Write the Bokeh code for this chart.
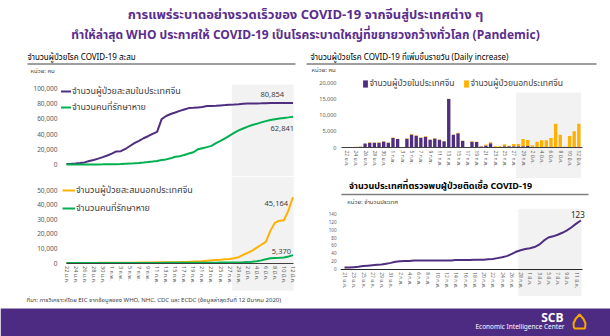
from bokeh.plotting import figure
from bokeh.layouts import column, row
from bokeh.models import Range1d, FixedTicker, NumeralTickFormatter, Legend, LegendItem, ColumnDataSource
from bokeh.core.properties import value
from bokeh.embed import file_html
from bokeh.resources import INLINE

FONT = "Noto Sans Thai, Noto Sans, sans-serif"
TITLE_PURPLE = "#5A2D8E"
BAND = "#4E2B83"
PURPLE = "#4F2D7F"
ORANGE = "#FFB000"
GREEN = "#00B050"
SHADE = "#F2F2F2"
TICK_TXT = "#595959"
LABEL_TXT = "#404040"

# ---------------- data ----------------
title_1 = "การแพร่ระบาดอย่างรวดเร็วของ COVID-19 จากจีนสู่ประเทศต่าง ๆ"
title_2 = "ทำให้ล่าสุด WHO ประกาศให้ COVID-19 เป็นโรคระบาดใหญ่ที่ขยายวงกว้างทั่วโลก (Pandemic)"
head_left = "จำนวนผู้ป่วยโรค COVID-19 สะสม"
head_right = "จำนวนผู้ป่วยโรค COVID-19 ที่เพิ่มขึ้นรายวัน (Daily increase)"
head_countries = "จำนวนประเทศที่ตรวจพบผู้ป่วยติดเชื้อ COVID-19"
unit_people = "หน่วย: คน"
unit_countries = "หน่วย: จำนวนประเทศ"
source_text = "ที่มา: การวิเคราะห์โดย EIC จากข้อมูลของ WHO, NHC, CDC และ ECDC (ข้อมูลล่าสุดวันที่ 12 มีนาคม 2020)"

lbl_china_cum = "จำนวนผู้ป่วยสะสมในประเทศจีน"
lbl_recovered = "จำนวนคนที่รักษาหาย"
lbl_out_cum = "จำนวนผู้ป่วยสะสมนอกประเทศจีน"
lbl_china_daily = "จำนวนผู้ป่วยในประเทศจีน"
lbl_out_daily = "จำนวนผู้ป่วยนอกประเทศจีน"

# day index 0 = 22 ม.ค. ... 50 = 12 มี.ค.
days = list(range(51))
tick_labels_a = ["22 ม.ค.", "24 ม.ค.", "26 ม.ค.", "28 ม.ค.", "30 ม.ค.", "1 ก.พ.", "3 ก.พ.",
                 "5 ก.พ.", "7 ก.พ.", "9 ก.พ.", "11 ก.พ.", "13 ก.พ.", "15 ก.พ.", "17 ก.พ.",
                 "19 ก.พ.", "21 ก.พ.", "23 ก.พ.", "25 ก.พ.", "27 ก.พ.", "29 ก.พ.", "2 มี.ค.",
                 "4 มี.ค.", "6 มี.ค.", "8 มี.ค.", "10 มี.ค.", "12 มี.ค."]

china_cum = [571, 830, 1287, 1975, 2744, 4515, 5974, 7711, 9692, 11791,
             14380, 17205, 17500, 20438, 24324, 28018, 31161, 34546, 37198, 40171,
             43000, 59804, 63851, 66492, 68500, 70548, 72436, 74185, 74576, 75077,
             75550, 77001, 77022, 77241, 77754, 78166, 78600, 78928, 79356, 79932,
             80136, 80261, 80380, 80497, 80667, 80768, 80800, 80820, 80835, 80846,
             80854]
china_rec = [28, 34, 38, 49, 51, 60, 103, 124, 171, 243,
             328, 475, 632, 892, 1153, 1540, 2050, 2649, 3281, 3996,
             4740, 5911, 6723, 8096, 10200, 11000, 12552, 14376, 16155, 20000,
             21500, 22888, 24500, 28000, 31000, 34500, 38000, 41500, 44800, 47400,
             49800, 52000, 53500, 55400, 57100, 58500, 59500, 60400, 61200, 62000,
             62841]
out_cum = [10, 15, 27, 44, 55, 74, 79, 93, 116, 146,
           154, 161, 170, 191, 214, 241, 288, 313, 339, 363,
           429, 442, 503, 529, 549, 621, 761, 833, 949, 1088,
           1277, 1556, 1800, 2000, 2200, 2500, 2800, 3300, 4000, 5500,
           7000, 8500, 10500, 12500, 14500, 22000, 27500, 29000, 29300, 36000,
           45164]
out_rec = [0, 0, 0, 0, 0, 0, 0, 0, 0, 0,
           0, 5, 10, 15, 20, 25, 30, 40, 50, 60,
           70, 80, 90, 100, 110, 120, 130, 140, 150, 170,
           190, 210, 230, 250, 280, 300, 330, 370, 420, 500,
           600, 800, 1200, 1800, 2500, 3200, 3500, 3600, 3800, 4500,
           5370]
china_daily = [0, 0, 150, 250, 1200, 1500, 1450, 1500, 1850, 1450,
               2900, 2600, 0, 2700, 4000, 3600, 3000, 3300, 2400, 2800,
               2400, 1900, 14900, 3900, 4400, 2000, 0, 1800, 1700, 300,
               600, 1300, 50, 50, 400, 400, 400, 400, 400, 500,
               200, 150, 120, 140, 150, 100, 50, 40, 20, 15,
               10]
out_daily = [0, 0, 50, 60, 50, 100, 100, 100, 100, 100,
             150, 100, 0, 150, 150, 150, 100, 150, 100, 100,
             100, 80, 100, 100, 150, 150, 0, 100, 100, 100,
             350, 350, 350, 350, 600, 150, 700, 700, 2200, 1800,
             500, 1650, 2100, 2100, 2750, 7200, 3850, 160, 3500, 5000,
             7300]

# day index 0 = 21 ม.ค. ... 51 = 12 มี.ค.
days_c = list(range(52))
tick_labels_b = ["21 ม.ค.", "23 ม.ค.", "25 ม.ค.", "27 ม.ค.", "29 ม.ค.", "31 ม.ค.", "2 ก.พ.",
                 "4 ก.พ.", "6 ก.พ.", "8 ก.พ.", "10 ก.พ.", "12 ก.พ.", "14 ก.พ.", "16 ก.พ.",
                 "18 ก.พ.", "20 ก.พ.", "22 ก.พ.", "24 ก.พ.", "26 ก.พ.", "28 ก.พ.", "1 มี.ค.",
                 "3 มี.ค.", "5 มี.ค.", "7 มี.ค.", "9 มี.ค.", "11 มี.ค."]
countries = [4, 4, 5, 6, 8, 9, 10, 11, 12, 14,
             16, 19, 20, 21, 21, 22, 22, 22, 22, 22,
             22, 22, 22, 22, 23, 23, 23, 23, 24, 24,
             24, 25, 26, 28, 30, 33, 38, 44, 48, 51,
             53, 56, 62, 72, 80, 83, 87, 92, 98, 106,
             115, 123]

# logo outline (footer pixel space)
logo_x = [573.5, 573.0, 575.0, 579.0, 583.0, 585.0, 584.5, 573.5]
logo_y = [32.0, 27.0, 22.5, 18.0, 22.5, 27.0, 32.0, 32.0]


# ---------------- helpers ----------------
def base(w, h, xr, yr, ml=0, mr=0):
    p = figure(width=w, height=h, x_range=Range1d(*xr), y_range=Range1d(*yr),
               output_backend="svg", toolbar_location=None,
               min_border_left=ml, min_border_right=mr, min_border_top=0, min_border_bottom=0)
    p.grid.visible = False
    p.outline_line_color = None
    p.background_fill_color = "white"
    p.border_fill_color = "white"
    return p


def pix(w, h):
    p = base(w, h, (0, w), (h, 0))
    p.xaxis.visible = False
    p.yaxis.visible = False
    return p


def txt(p, x, y, s, size, color="black", align="left", bold=False):
    p.text(x=[x], y=[y], text=[s], text_font=value(FONT), text_font_size=size,
           text_color=color, text_align=align, text_baseline="middle",
           text_font_style="bold" if bold else "normal")


def style_y(ax, ticks, size):
    ax.ticker = FixedTicker(ticks=ticks)
    ax.formatter = NumeralTickFormatter(format="0,0")
    ax.axis_line_color = None
    ax.major_tick_line_color = None
    ax.minor_tick_line_color = None
    ax.major_tick_out = 0
    ax.major_tick_in = 0
    ax.major_label_standoff = 4
    ax.major_label_text_font_size = size
    ax.major_label_text_color = TICK_TXT
    ax.major_label_text_font = FONT


def style_x(ax, labels, size, bounds, line_color):
    ticks = list(range(0, 2 * len(labels), 2))
    ax.fixed_location = 0
    ax.bounds = bounds
    ax.ticker = FixedTicker(ticks=ticks)
    ax.major_label_overrides = {t: l for t, l in zip(ticks, labels)}
    ax.major_label_orientation = "vertical"
    ax.axis_line_color = line_color
    ax.axis_line_width = 1
    ax.major_tick_line_color = None
    ax.minor_tick_line_color = None
    ax.major_tick_out = 0
    ax.major_tick_in = 0
    ax.major_label_standoff = 3
    ax.major_label_text_font_size = size
    ax.major_label_text_color = TICK_TXT
    ax.major_label_text_font = FONT


def legend(p, items, loc, spacing=2, gw=13, gh=12, fs="9px"):
    lg = Legend(items=[LegendItem(label=l, renderers=[r]) for l, r in items], location=loc,
                orientation="vertical", padding=0, margin=0, spacing=spacing,
                glyph_width=gw, glyph_height=gh, label_height=gh, label_standoff=1,
                background_fill_alpha=0, border_line_color=None,
                label_text_font=FONT, label_text_font_size=fs, label_text_color=LABEL_TXT)
    p.add_layout(lg)


# ---------------- header ----------------
hdr = pix(610, 76)
txt(hdr, 305, 14, title_1, "13px", TITLE_PURPLE, "center", True)
txt(hdr, 305, 34, title_2, "12px", TITLE_PURPLE, "center", True)
txt(hdr, 27, 57, head_left, "8px")
txt(hdr, 310, 57, head_right, "8px")
hdr.segment(x0=[27, 306], y0=[63.5, 63.5], x1=[295, 596], y1=[63.5, 63.5], line_color="#7F7F7F", line_width=1.5)
txt(hdr, 30, 71, unit_people, "6px", LABEL_TXT)
txt(hdr, 311, 70, unit_people, "6px", LABEL_TXT)

# ---------------- left top: cumulative China ----------------
LX0, LXD = 66.0, 4.53          # pixel of day 0, px per day
def lx(px):
    return (px - LX0) / LXD
y0_lt, ypp_lt = 164.0 - 76.0, 76.0 / 100000.0   # local pixel of zero, px per unit
lt = base(305, 100, (lx(61), lx(300)), (-(100 - y0_lt) / ypp_lt, y0_lt / ypp_lt), ml=61, mr=5)
lt.xaxis.visible = False
style_y(lt.yaxis[0], [0, 20000, 40000, 60000, 80000, 100000], "6.5px")
lt.quad(left=[36.5], right=[50.15], bottom=[-(100 - y0_lt) / ypp_lt], top=[(164 - 84) / ypp_lt],
        fill_color=SHADE, line_color=None)
r_cc = lt.line(days, china_cum, line_color=PURPLE, line_width=2)
r_cr = lt.line(days, china_rec, line_color=GREEN, line_width=2)
lt.text(x=[days[-1]], y=[china_cum[-1]], text=[f"{china_cum[-1]:,}"], text_font=value(FONT),
        text_font_size="7.5px", text_color=LABEL_TXT, text_align="right", text_baseline="middle",
        x_offset=-9, y_offset=-9)
lt.text(x=[days[-1]], y=[china_rec[-1]], text=[f"{china_rec[-1]:,}"], text_font=value(FONT),
        text_font_size="7.5px", text_color=LABEL_TXT, text_align="right", text_baseline="middle",
        x_offset=1, y_offset=12)
legend(lt, [(lbl_china_cum, r_cc), (lbl_recovered, r_cr)], (-3, 62), spacing=2)

# ---------------- left bottom: cumulative outside China ----------------
y0_lb, ypp_lb = 262.5 - 176.0, 73.0 / 50000.0
lb = base(305, 120, (lx(61), lx(300)), (-(120 - y0_lb) / ypp_lb, y0_lb / ypp_lb), ml=61, mr=5)
style_y(lb.yaxis[0], [0, 10000, 20000, 30000, 40000, 50000], "6.5px")
style_x(lb.xaxis[0], tick_labels_a, "5.5px", (0, 50), "#404040")
lb.quad(left=[36.5], right=[50.15], bottom=[-(290 - 262.5) / ypp_lb], top=[y0_lb / ypp_lb],
        fill_color=SHADE, line_color=None)
r_oc = lb.line(days, out_cum, line_color=ORANGE, line_width=2)
r_or = lb.line(days, out_rec, line_color=GREEN, line_width=2)
lb.text(x=[days[-1]], y=[out_cum[-1]], text=[f"{out_cum[-1]:,}"], text_font=value(FONT),
        text_font_size="7.5px", text_color=LABEL_TXT, text_align="right", text_baseline="middle",
        x_offset=-5, y_offset=6)
lb.text(x=[days[-1]], y=[out_rec[-1]], text=[f"{out_rec[-1]:,}"], text_font=value(FONT),
        text_font_size="7.5px", text_color=LABEL_TXT, text_align="right", text_baseline="middle",
        x_offset=-2, y_offset=-4)
legend(lb, [(lbl_out_cum, r_oc), (lbl_recovered, r_or)], (1, 81), spacing=4)

# ---------------- right top: daily increase bars ----------------
RX0, RXD = 346.0, 4.647
def rx(px):
    return (px - RX0) / RXD
y0_rt, ypp_rt = 147.0 - 76.0, 3.25 / 1000.0
rt = base(305, 102, (rx(340), rx(600)), (-(102 - y0_rt) / ypp_rt, y0_rt / ypp_rt), ml=35, mr=10)
style_y(rt.yaxis[0], [0, 5000, 10000, 15000, 20000], "5.5px")
style_x(rt.xaxis[0], tick_labels_a, "5px", (-1.0, 50.7), "#404040")
rt.quad(left=[36.5], right=[50.5], bottom=[-(102 - y0_rt) / ypp_rt], top=[(147 - 92) / ypp_rt],
        fill_color=SHADE, line_color=None)
src = ColumnDataSource(dict(day=days, china=china_daily, outside=out_daily))
bars = rt.vbar_stack(["china", "outside"], x="day", width=0.72, source=src,
                     color=[PURPLE, ORANGE], line_color=None)
for r, lbl, vx in [(bars[0], lbl_china_daily, 21.5), (bars[1], lbl_out_daily, 122.5)]:
    lg = Legend(items=[LegendItem(label=lbl, renderers=[r])], location=(vx, 178 - 90),
                padding=0, margin=0, glyph_width=6, glyph_height=9, label_height=9,
                label_standoff=2, background_fill_alpha=0, border_line_color=None,
                label_text_font=FONT, label_text_font_size="8.5px", label_text_color=LABEL_TXT)
    rt.add_layout(lg)

# ---------------- right middle: heading ----------------
rm = pix(305, 30)
txt(rm, 10, 7, head_countries, "9px", "black", "left", True)
rm.segment(x0=[1], y0=[16], x1=[291], y1=[16], line_color="#7F7F7F", line_width=1.5)
txt(rm, 8, 24, unit_countries, "6px", LABEL_TXT)

# ---------------- right bottom: number of countries ----------------
CX0, CXD = 343.0, 4.653
def cx(px):
    return (px - CX0) / CXD
y0_rb, ypp_rb = 268.7 - 208.0, 0.396
rb = base(305, 88, (cx(339), cx(600)), (-(88 - y0_rb) / ypp_rb, y0_rb / ypp_rb), ml=34, mr=10)
style_y(rb.yaxis[0], [0, 20, 40, 60, 80, 100, 120, 140], "4.5px")
style_x(rb.xaxis[0], tick_labels_b, "5px", (-0.8, 51.3), "#262626")
rb.quad(left=[37.5], right=[51.15], bottom=[-(88 - y0_rb) / ypp_rb], top=[y0_rb / ypp_rb],
        fill_color=SHADE, line_color=None)
rb.line(days_c, countries, line_color=PURPLE, line_width=2)
rb.text(x=[days_c[-1]], y=[countries[-1]], text=[str(countries[-1])], text_font=value(FONT),
        text_font_size="8px", text_color="#262626", text_align="center", text_baseline="middle",
        x_offset=-3, y_offset=-6)

# ---------------- footer ----------------
ft = pix(610, 40)
txt(ft, 26, 4, source_text, "6px", LABEL_TXT)
ft.quad(left=[0], right=[610], bottom=[40], top=[12], fill_color=BAND, line_color=None)
txt(ft, 563, 21, "SCB", "12px", "white", "right", True)
txt(ft, 564, 30.5, "Economic Intelligence Center", "6.5px", "white", "right")
ft.line(logo_x, logo_y, line_color="#F5A800", line_width=2)

layout = column(hdr, row(column(lt, lb), column(rt, rm, rb)), ft)
open("out.html", "w").write(file_html(layout, INLINE))
